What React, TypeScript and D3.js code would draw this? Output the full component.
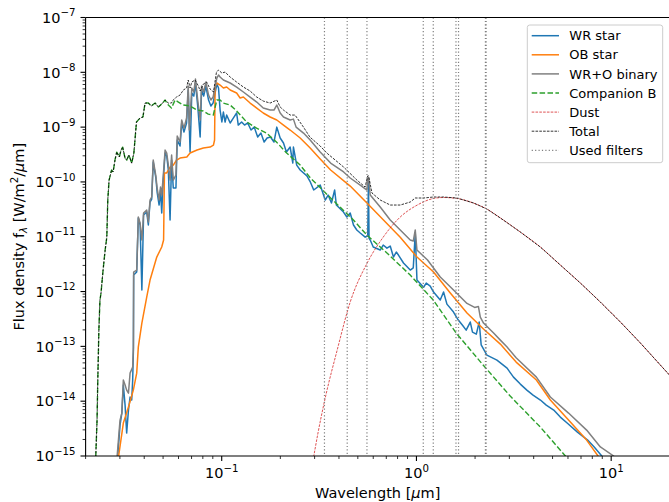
import React from 'react';
import * as d3 from 'd3';

type P = [number, number];

// wavelength [um], flux density [W/m^2/um]
const wrStar: P[] = [
  [0.0291, 8e-16], [0.03005, 3.66e-15], [0.0307, 6.07e-15], [0.03125, 1.97e-14], [0.0319, 8.49e-15],
  [0.0325, 2.62e-15], [0.0332, 6.88e-15], [0.03384, 1.19e-14], [0.0345, 1.05e-14], [0.0349, 2.43e-14],
  [0.0352, 8.56e-14], [0.0353, 2.0e-12], [0.0366, 2.27e-12], [0.0373, 2.2e-11], [0.0381, 1.64e-11],
  [0.0389, 1.07e-12], [0.0397, 2.49e-11], [0.0412, 2.82e-11], [0.042, 1.64e-11], [0.04285, 4.3e-11],
  [0.0437, 4.88e-11], [0.0445, 2.31e-10], [0.0459, 1.18e-10], [0.0466, 6.54e-11], [0.0477, 3.79e-11],
  [0.0485, 7.12e-11], [0.0492, 2.71e-11], [0.0501, 1.08e-10], [0.0512, 3.37e-10], [0.0522, 2.97e-10],
  [0.0532, 1.65e-10], [0.0543, 2.02e-11], [0.0553, 2.51e-10], [0.0564, 7.75e-11], [0.0582, 7.75e-11],
  [0.0591, 5.82e-10], [0.0611, 4.52e-10], [0.0623, 1.19e-9], [0.064, 8.13e-10], [0.066, 1.19e-9],
  [0.0673, 4.75e-9], [0.0688, 3.51e-10], [0.0702, 4.19e-9], [0.0719, 3.69e-9], [0.0733, 6.38e-9],
  [0.0753, 2.43e-9], [0.0775, 6.59e-10], [0.0788, 4.75e-9], [0.0808, 3.69e-9], [0.0829, 5.62e-9],
  [0.0856, 3.12e-9], [0.088, 2.43e-9], [0.0903, 2.75e-9], [0.0944, 6.11e-9], [0.0963, 5.17e-9],
  [0.0981, 2.05e-9], [0.1002, 1.24e-9], [0.102, 1.88e-9], [0.1041, 1.24e-9], [0.106, 1.66e-9],
  [0.1105, 1.19e-9], [0.1149, 1.47e-9], [0.1193, 1.81e-9], [0.1216, 1.09e-9], [0.1265, 1.24e-9],
  [0.131, 1.09e-9], [0.136, 1.19e-9], [0.1414, 8.85e-10], [0.1469, 1.0e-9], [0.153, 6.59e-10],
  [0.159, 7.8e-10], [0.1651, 5.35e-10], [0.171, 6.33e-10], [0.178, 6.59e-10], [0.1855, 5.35e-10],
  [0.1918, 1.0e-9], [0.1996, 6.33e-10], [0.2076, 5.13e-10], [0.215, 3.51e-10], [0.2246, 4.33e-10],
  [0.2318, 2.21e-10], [0.2335, 4.33e-10], [0.2427, 2.03e-10], [0.2529, 1.65e-10], [0.2738, 1.29e-10],
  [0.2855, 9.9e-11], [0.2968, 7.12e-11], [0.3204, 8.78e-11], [0.34, 4.68e-11], [0.352, 5.77e-11],
  [0.366, 4.13e-11], [0.3802, 7.12e-11], [0.3878, 3.79e-11], [0.422, 2.82e-11], [0.4392, 2.29e-11],
  [0.4569, 2.71e-11], [0.475, 1.64e-11], [0.494, 1.33e-11], [0.5143, 1.17e-11], [0.5455, 9.83e-12],
  [0.562, 1.03e-11], [0.567, 1.08e-10], [0.571, 9.4e-12], [0.5789, 8.71e-12], [0.6, 6.49e-12],
  [0.6516, 5.72e-12], [0.675, 7.06e-12], [0.7055, 6.2e-12], [0.7334, 6.77e-12], [0.762, 4.26e-12],
  [0.788, 5.26e-12], [0.8083, 4.64e-12], [0.858, 3.32e-12], [0.9293, 2.47e-12], [0.963, 2.7e-12],
  [0.986, 1.17e-11], [1.006, 1.62e-12], [1.088, 1.2e-12], [1.123, 1.43e-12], [1.177, 1.26e-12],
  [1.224, 9.8e-13], [1.325, 7.0e-13], [1.378, 9.8e-13], [1.434, 5.9e-13], [1.55, 4.23e-13],
  [1.64, 3.02e-13], [1.72, 2.45e-13], [1.8, 1.98e-13], [1.89, 2.78e-13], [1.94, 1.82e-13],
  [2.03, 1.67e-13], [2.1, 2.78e-13], [2.15, 1.06e-13], [2.3, 6.94e-14], [2.59, 5.62e-14],
  [2.92, 4.0e-14], [3.15, 2.75e-14], [3.415, 2.05e-14], [3.69, 1.59e-14], [3.97, 1.29e-14],
  [4.33, 1.05e-14], [4.64, 8.49e-15], [5.07, 6.88e-15], [5.48, 5.13e-15], [5.94, 3.99e-15],
  [6.71, 2.73e-15], [7.57, 1.95e-15], [8.18, 1.46e-15], [8.95, 1.0e-15], [9.1, 8e-16],
];

const obStar: P[] = [
  [0.0293, 8e-16], [0.03125, 3.99e-15], [0.0332, 7.8e-15], [0.03517, 1.59e-14], [0.0366, 3.25e-14],
  [0.0373, 9.7e-14], [0.0389, 2.66e-13], [0.0412, 7.93e-13], [0.04285, 1.62e-12], [0.0464, 4.26e-12],
  [0.0492, 6.49e-12], [0.0503, 8.71e-12], [0.0508, 1.46e-10], [0.0522, 1.46e-10], [0.0543, 1.87e-10],
  [0.0564, 2.03e-10], [0.0587, 2.51e-10], [0.0611, 2.73e-10], [0.0662, 2.85e-10], [0.0688, 3.37e-10],
  [0.0747, 3.82e-10], [0.0805, 4.16e-10], [0.0872, 4.33e-10], [0.0907, 4.71e-10], [0.0919, 5.82e-10],
  [0.0925, 5.39e-9], [0.0944, 6.38e-9], [0.0981, 5.86e-9], [0.102, 5.17e-9], [0.106, 5.39e-9],
  [0.1105, 4.75e-9], [0.1193, 4.19e-9], [0.1243, 3.4e-9], [0.1292, 3.54e-9], [0.1399, 2.75e-9],
  [0.1513, 2.23e-9], [0.1634, 1.81e-9], [0.1773, 1.53e-9], [0.1918, 1.35e-9], [0.2076, 1.09e-9],
  [0.2246, 8.85e-10], [0.2529, 6.33e-10], [0.2846, 4.16e-10], [0.3204, 2.62e-10], [0.3625, 1.65e-10],
  [0.4569, 8.4e-11], [0.557, 4.13e-11], [0.6772, 2.02e-11], [0.8256, 9.83e-12], [1.006, 4.26e-12],
  [1.224, 2.27e-12], [1.492, 9.44e-13], [1.818, 4.06e-13], [2.21, 2.07e-13], [2.696, 1.1e-13],
  [3.25, 5.17e-14], [4.13, 2.43e-14], [4.87, 1.05e-14], [6.04, 4.52e-15], [7.48, 1.95e-15],
  [8.56, 1.0e-15], [8.75, 7e-16],
];

const binary: P[] = [
  [0.0289, 8e-16], [0.03005, 4.52e-15], [0.0307, 6.07e-15], [0.03125, 2.43e-14], [0.0319, 1.97e-14],
  [0.0325, 1.59e-14], [0.0332, 1.4e-14], [0.03384, 3.25e-14], [0.0349, 4.2e-14], [0.0352, 9.7e-14],
  [0.0353, 2.27e-12], [0.0366, 2.47e-12], [0.0373, 2.29e-11], [0.0381, 1.78e-11], [0.0389, 8.71e-12],
  [0.0397, 2.71e-11], [0.0412, 3.07e-11], [0.042, 1.86e-11], [0.04285, 4.68e-11], [0.0437, 5.31e-11],
  [0.0445, 2.51e-10], [0.0459, 1.29e-10], [0.0466, 7.75e-11], [0.0477, 4.68e-11], [0.0485, 8.07e-11],
  [0.0492, 5.77e-11], [0.0501, 1.29e-10], [0.0512, 3.82e-10], [0.0522, 3.37e-10], [0.0532, 2.03e-10],
  [0.0543, 1.08e-10], [0.0553, 3.1e-10], [0.0564, 1.08e-10], [0.0582, 1.34e-10], [0.0591, 6.88e-10],
  [0.0611, 5.35e-10], [0.0623, 1.35e-9], [0.064, 9.6e-10], [0.066, 1.47e-9], [0.0673, 5.62e-9],
  [0.0682, 8.85e-10], [0.0702, 5.17e-9], [0.0719, 4.37e-9], [0.0733, 7.54e-9], [0.0753, 3.12e-9],
  [0.0775, 1.35e-9], [0.0788, 5.62e-9], [0.0808, 4.37e-9], [0.0829, 6.64e-9], [0.0856, 3.85e-9],
  [0.088, 3.12e-9], [0.0903, 3.54e-9], [0.0944, 7.87e-9], [0.0963, 8.93e-9], [0.0981, 8.2e-9],
  [0.102, 7.23e-9], [0.1105, 6.38e-9], [0.1193, 5.39e-9], [0.1292, 4.37e-9], [0.1399, 3.54e-9],
  [0.1513, 2.87e-9], [0.1634, 2.23e-9], [0.1773, 2.05e-9], [0.1855, 2.05e-9], [0.1918, 2.53e-9],
  [0.1996, 1.81e-9], [0.2076, 1.53e-9], [0.2246, 1.35e-9], [0.2335, 1.4e-9], [0.241, 1.0e-9],
  [0.263, 7.8e-10], [0.2846, 5.82e-10], [0.3204, 3.51e-10], [0.3625, 2.21e-10], [0.4226, 1.52e-10],
  [0.4569, 1.18e-10], [0.5143, 8.78e-11], [0.557, 7.12e-11], [0.562, 1.18e-10], [0.568, 1.18e-10],
  [0.5789, 5.77e-11], [0.6516, 3.49e-11], [0.7334, 2.02e-11], [0.8256, 1.33e-11], [0.9293, 8.71e-12],
  [0.963, 8.35e-12], [0.986, 1.33e-11], [1.006, 5.72e-12], [1.14, 3.76e-12], [1.325, 1.84e-12],
  [1.55, 1.07e-12], [1.818, 6.07e-13], [1.99, 5.13e-13], [2.08, 5.35e-13], [2.128, 3.43e-13],
  [2.21, 2.66e-13], [2.49, 1.75e-13], [2.696, 1.3e-13], [2.92, 9.7e-14], [3.25, 6.2e-14],
  [4.13, 2.75e-14], [4.87, 1.19e-14], [6.04, 6.07e-15], [7.48, 2.97e-15], [8.8, 1.46e-15],
  [10.3, 1.0e-15], [10.6, 8e-16],
];

const companionB: P[] = [
  [0.0224, 5e-16], [0.0229, 4.5e-15], [0.0231, 2.4e-14], [0.0234, 2.0e-13], [0.0237, 7.0e-13],
  [0.024, 9.4e-13], [0.0246, 2.5e-12], [0.0252, 5.7e-12], [0.0257, 9.8e-12], [0.026, 4.7e-11],
  [0.0264, 1.08e-10], [0.0272, 1.65e-10], [0.0277, 1.52e-10], [0.0283, 2.5e-10], [0.0289, 3.5e-10],
  [0.0298, 2.85e-10], [0.0304, 3.8e-10], [0.031, 4.3e-10], [0.0319, 2.7e-10], [0.0325, 2.5e-10],
  [0.0334, 3.1e-10], [0.0345, 2.2e-10], [0.0354, 3.4e-10], [0.0365, 1.24e-9], [0.0381, 1.47e-9],
  [0.0394, 1.53e-9], [0.0404, 2.75e-9], [0.042, 2.75e-9], [0.0435, 2.43e-9], [0.0455, 2.75e-9],
  [0.0473, 2.33e-9], [0.0492, 2.64e-9], [0.0512, 3.12e-9], [0.0532, 2.53e-9], [0.0552, 2.23e-9],
  [0.0576, 3.12e-9], [0.0599, 2.87e-9], [0.0635, 2.53e-9], [0.0688, 2.43e-9], [0.0747, 2.05e-9],
  [0.0804, 1.97e-9], [0.0853, 1.73e-9], [0.0905, 1.66e-9], [0.0944, 3.12e-9], [0.0981, 3.12e-9],
  [0.102, 2.75e-9], [0.1105, 2.53e-9], [0.1193, 1.97e-9], [0.1343, 1.24e-9], [0.151, 9.6e-10],
  [0.17, 7.8e-10], [0.191, 5.35e-10], [0.2155, 3.37e-10], [0.2529, 2.03e-10], [0.2855, 1.18e-10],
  [0.3625, 5.1e-11], [0.4747, 2.02e-11], [0.557, 1.07e-11], [0.7055, 5.05e-12], [0.929, 2.0e-12],
  [1.22, 7.0e-13], [1.6, 1.75e-13], [2.2, 4.56e-14], [3.03, 1.24e-14], [4.33, 3.36e-15],
  [5.82, 1.0e-15], [5.95, 8e-16],
];

const dust: P[] = [
  [0.292, 7e-16], [0.3128, 2.73e-15], [0.34, 1.14e-14], [0.3917, 8.56e-14], [0.4569, 6.43e-13],
  [0.5585, 3.32e-12], [0.675, 9.83e-12], [0.8256, 2.29e-11], [1.01, 3.79e-11], [1.22, 4.98e-11],
  [1.373, 5.2e-11], [1.62, 4.98e-11], [1.955, 4.13e-11], [2.3, 3.2e-11], [2.7, 2.2e-11],
  [3.415, 1.22e-11], [4.33, 6.49e-12], [5.48, 3.05e-12], [6.95, 1.43e-12], [8.8, 6.43e-13],
  [11.15, 2.78e-13], [14.13, 1.15e-13], [17.89, 4.56e-14], [20.15, 2.87e-14],
];

const total: P[] = [
  [0.0224, 5e-16], [0.0229, 4.5e-15], [0.0231, 2.4e-14], [0.0234, 2.0e-13], [0.0237, 7.0e-13],
  [0.024, 9.4e-13], [0.0246, 2.5e-12], [0.0252, 5.7e-12], [0.0257, 9.8e-12], [0.026, 4.7e-11],
  [0.0264, 1.08e-10], [0.0272, 1.65e-10], [0.0277, 1.52e-10], [0.0283, 2.5e-10], [0.0289, 3.5e-10],
  [0.0298, 2.85e-10], [0.0304, 3.8e-10], [0.031, 4.3e-10], [0.0319, 2.7e-10], [0.0325, 2.5e-10],
  [0.0334, 3.1e-10], [0.0345, 2.2e-10], [0.0354, 3.4e-10], [0.0365, 1.24e-9], [0.0381, 1.47e-9],
  [0.0394, 1.53e-9], [0.0404, 2.75e-9], [0.042, 2.75e-9], [0.0435, 2.43e-9], [0.0455, 2.75e-9],
  [0.0473, 2.33e-9], [0.0492, 2.64e-9], [0.0512, 3.12e-9], [0.0532, 2.75e-9], [0.0552, 2.75e-9],
  [0.0563, 3.12e-9], [0.0586, 3.54e-9], [0.0611, 3.85e-9], [0.0635, 4.75e-9], [0.066, 5.17e-9],
  [0.0673, 7.23e-9], [0.0688, 5.17e-9], [0.0702, 6.64e-9], [0.073, 7.23e-9], [0.0759, 5.62e-9],
  [0.0775, 4.56e-9], [0.0805, 6.11e-9], [0.0837, 6.64e-9], [0.0872, 4.95e-9], [0.0907, 4.37e-9],
  [0.094, 1.01e-8], [0.0963, 1.1e-8], [0.1002, 9.7e-9], [0.1041, 1.01e-8], [0.1105, 8.2e-9],
  [0.1193, 6.64e-9], [0.1292, 5.39e-9], [0.1399, 4.56e-9], [0.1513, 3.54e-9], [0.1634, 2.99e-9],
  [0.1773, 2.75e-9], [0.1918, 3.12e-9], [0.1996, 2.33e-9], [0.2076, 2.05e-9], [0.2246, 1.66e-9],
  [0.238, 1.66e-9], [0.263, 1.0e-9], [0.2835, 6.6e-10], [0.3204, 4.52e-10], [0.3464, 3.37e-10],
  [0.4226, 1.87e-10], [0.4947, 1.08e-10], [0.545, 8.07e-11], [0.562, 1.29e-10], [0.568, 1.29e-10],
  [0.591, 6.28e-11], [0.6516, 4.68e-11], [0.7334, 3.79e-11], [0.8256, 3.79e-11], [0.9293, 4.3e-11],
  [0.986, 5.09e-11], [1.088, 5.09e-11], [1.224, 5.31e-11], [1.378, 5.31e-11], [1.614, 5.09e-11],
  [1.966, 4.13e-11], [2.302, 3.2e-11], [2.696, 2.2e-11], [3.415, 1.22e-11], [4.327, 6.49e-12],
  [5.483, 3.05e-12], [6.945, 1.43e-12], [8.8, 6.43e-13], [11.15, 2.78e-13], [14.13, 1.15e-13],
  [17.89, 4.56e-14], [20.15, 2.87e-14],
];

const filterWavelengths: number[] = [0.337, 0.441, 0.557, 1.084, 1.22, 1.596, 1.645, 2.26, 2.28];

const xMajorTicks: number[] = [0.1, 1, 10];
const xMajorExponents: string[] = ['\u22121', '0', '1'];
const yMajorExponents: number[] = [-15, -14, -13, -12, -11, -10, -9, -8, -7];

const legendLabels: string[] = ['WR star', 'OB star', 'WR+O binary', 'Companion B', 'Dust', 'Total', 'Used filters'];

const FONT = "'DejaVu Sans', sans-serif";

export default function App() {
  const W = 669;
  const H = 502;
  const left = 85.6;
  const right = 669.8;
  const top = 17.5;
  const bottom = 456;

  const x = d3.scaleLog().domain([0.02, 20]).range([left, right]);
  const y = d3.scaleLog().domain([1e-15, 1e-7]).range([bottom, top]);

  const line = d3.line<P>().x((d) => x(d[0])).y((d) => y(d[1]));
  const smooth = d3.line<P>().x((d) => x(d[0])).y((d) => y(d[1])).curve(d3.curveMonotoneX);

  const xMinor: number[] = [];
  for (let e = -2; e <= 1; e++) {
    for (let k = 2; k <= 9; k++) {
      const v = k * Math.pow(10, e);
      if (v >= 0.02 - 1e-9 && v <= 20 + 1e-9) xMinor.push(v);
    }
  }
  const yMinor: number[] = [];
  for (let e = -15; e < -7; e++) {
    for (let k = 2; k <= 9; k++) yMinor.push(k * Math.pow(10, e));
  }

  const series = [
    { data: wrStar, color: '#1f77b4', width: 1.5, dash: undefined as string | undefined, path: line },
    { data: obStar, color: '#ff7f0e', width: 1.5, dash: undefined, path: line },
    { data: binary, color: '#808080', width: 1.5, dash: undefined, path: line },
    { data: companionB, color: '#2ca02c', width: 1.4, dash: '5.5,2.4', path: line },
    { data: dust, color: '#d62728', width: 0.8, dash: '2.6,1.2', path: smooth },
    { data: total, color: '#000000', width: 0.8, dash: '2.6,1.2', path: line },
  ];

  const legendStyles = [
    { color: '#1f77b4', width: 1.5, dash: undefined as string | undefined },
    { color: '#ff7f0e', width: 1.5, dash: undefined },
    { color: '#808080', width: 1.5, dash: undefined },
    { color: '#2ca02c', width: 1.4, dash: '5.5,2.4' },
    { color: '#d62728', width: 0.8, dash: '2.6,1.2' },
    { color: '#000000', width: 0.8, dash: '2.6,1.2' },
    { color: '#808080', width: 1.2, dash: '1.2,2.2' },
  ];

  const tickColor = '#000';
  const lgX = 527.3;
  const lgY = 25;
  const lgW = 135.4;
  const lgH = 137.7;

  return (
    <svg
      width={W}
      height={H}
      viewBox={`0 0 ${W} ${H}`}
      style={{ position: 'absolute', left: 0, top: 0, background: '#fff' }}
      fontFamily={FONT}
    >
      <defs>
        <clipPath id="plotClip">
          <rect x={left} y={top} width={right - left} height={bottom - top} />
        </clipPath>
      </defs>
      <rect x={0} y={0} width={W} height={H} fill="#fff" />

      <g clipPath="url(#plotClip)">
        {series.map((s, i) => (
          <path
            key={i}
            d={s.path(s.data) || ''}
            fill="none"
            stroke={s.color}
            strokeWidth={s.width}
            strokeDasharray={s.dash}
            strokeLinejoin="round"
          />
        ))}
        {filterWavelengths.map((w, i) => (
          <line
            key={i}
            x1={x(w)}
            x2={x(w)}
            y1={top}
            y2={bottom}
            stroke="#808080"
            strokeWidth={1.2}
            strokeDasharray="1.2,2.2"
          />
        ))}
      </g>

      {/* spines */}
      <g stroke="#000" strokeWidth={1.1} fill="none">
        <line x1={left} x2={left} y1={top} y2={bottom} />
        <line x1={left} x2={right} y1={bottom} y2={bottom} />
        <line x1={left} x2={right} y1={top} y2={top} />
        <line x1={right} x2={right} y1={top} y2={bottom} />
      </g>

      {/* x ticks */}
      <g stroke={tickColor}>
        {xMinor.map((v, i) => (
          <line key={i} x1={x(v)} x2={x(v)} y1={bottom} y2={bottom + 3} strokeWidth={0.8} />
        ))}
        {xMajorTicks.map((v, i) => (
          <line key={i} x1={x(v)} x2={x(v)} y1={bottom} y2={bottom + 5.1} strokeWidth={1.1} />
        ))}
      </g>
      {xMajorTicks.map((v, i) => (
        <text key={i} x={x(v)} y={478} textAnchor="middle" fontSize={14.5} fill="#000">
          <tspan>10</tspan>
          <tspan dy={-6.5} fontSize={10.2}>{xMajorExponents[i]}</tspan>
        </text>
      ))}

      {/* y ticks */}
      <g stroke={tickColor}>
        {yMinor.map((v, i) => (
          <line key={i} x1={left - 3} x2={left} y1={y(v)} y2={y(v)} strokeWidth={0.8} />
        ))}
        {yMajorExponents.map((e, i) => (
          <line key={i} x1={left - 5.1} x2={left} y1={y(Math.pow(10, e))} y2={y(Math.pow(10, e))} strokeWidth={1.1} />
        ))}
      </g>
      {yMajorExponents.map((e, i) => (
        <text key={i} x={75.5} y={y(Math.pow(10, e)) + 5.2} textAnchor="end" fontSize={14.5} fill="#000">
          <tspan>10</tspan>
          <tspan dy={-6.5} fontSize={10.2}>{`\u2212${Math.abs(e)}`}</tspan>
        </text>
      ))}

      {/* axis labels */}
      <text x={(left + right) / 2} y={497.5} textAnchor="middle" fontSize={14.5} fill="#000">
        <tspan>Wavelength [</tspan>
        <tspan fontStyle="italic">μ</tspan>
        <tspan>m]</tspan>
      </text>
      <text transform={`translate(23.5, ${(top + bottom) / 2}) rotate(-90)`} textAnchor="middle" fontSize={14.5} fill="#000">
        <tspan>Flux density f</tspan>
        <tspan dy={3} fontSize={10.2} fontStyle="italic">λ</tspan>
        <tspan dy={-3}> [W/m</tspan>
        <tspan dy={-6} fontSize={10.2}>2</tspan>
        <tspan dy={6}>/</tspan>
        <tspan fontStyle="italic">μ</tspan>
        <tspan>m]</tspan>
      </text>

      {/* legend */}
      <rect
        x={lgX}
        y={lgY}
        width={lgW}
        height={lgH}
        rx={2.5}
        fill="#fff"
        fillOpacity={0.8}
        stroke="#cccccc"
        strokeWidth={1}
      />
      {legendLabels.map((lab, i) => {
        const cy = 35.7 + 19.1 * i;
        const st = legendStyles[i];
        return (
          <g key={i}>
            <line x1={531.7} x2={559} y1={cy} y2={cy} stroke={st.color} strokeWidth={st.width} strokeDasharray={st.dash} />
            <text x={569.3} y={cy} dy="0.36em" fontSize={13} fill="#000">{lab}</text>
          </g>
        );
      })}
    </svg>
  );
}
